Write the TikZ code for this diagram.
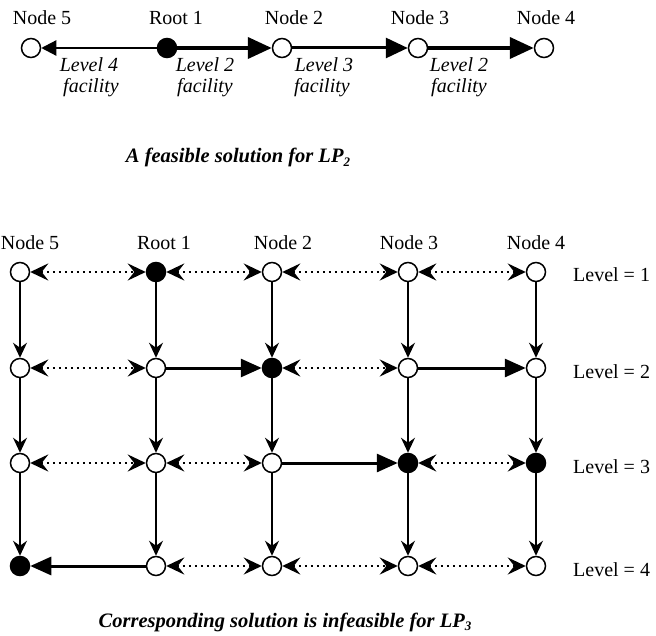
\documentclass[tikz,border=0pt]{standalone}
\usepackage{fontspec}
\setmainfont{Liberation Serif}
\usetikzlibrary{arrows.meta}
\begin{document}
\begin{tikzpicture}[x=1pt,y=-1pt,
  vtx/.style={circle,draw,line width=1.5pt,minimum size=19pt,inner sep=0pt,fill=white},
  fvtx/.style={vtx,fill=black},
  lbl/.style={font=\fontsize{20}{24}\selectfont,anchor=base,inner sep=0pt},
  elbl/.style={font=\fontsize{20}{24}\selectfont\itshape,anchor=base,inner sep=0pt},
  captxt/.style={font=\fontsize{20.5}{24}\selectfont\bfseries\itshape,anchor=base,inner sep=0pt},
  vedge/.style={line width=1.4pt,-{Stealth[length=15pt,width=14pt,inset=5pt]}},
  dedge/.style={line width=2.6pt,dash pattern=on 2.6pt off 3.4pt,
     {Stealth[length=18pt,width=17pt,inset=6.5pt]}-{Stealth[length=18pt,width=17pt,inset=6.5pt]}},
  sedge/.style={line width=3pt,-{Triangle[length=21pt,width=18pt]}},
]
\useasboundingbox (0,0) rectangle (656,636);

% ---------- top: feasible solution ----------
\node[lbl] (tl5) at (42,25) {Node 5};
\node[lbl] (tl1) at (176,25) {Root 1};
\node[lbl] (tl2) at (294,25) {Node 2};
\node[lbl] (tl3) at (420,25) {Node 3};
\node[lbl] (tl4) at (546,25) {Node 4};

\node[vtx]  (t5) at (31,48) {};
\node[fvtx] (t1) at (167,48) {};
\node[vtx]  (t2) at (282,48) {};
\node[vtx]  (t3) at (418,48) {};
\node[vtx]  (t4) at (544,48) {};

\draw[line width=2.2pt,-{Triangle[length=15pt,width=15pt]}] (t1) -- (t5);
\draw[line width=4pt,-{Triangle[length=24pt,width=21pt]}] (t1) -- (t2);
\draw[line width=3pt,-{Triangle[length=22pt,width=20pt]}] (t2) -- (t3);
\draw[line width=4pt,-{Triangle[length=24pt,width=21pt]}] (t3) -- (t4);

\node[elbl] (ea1) at (89,72) {Level 4};
\node[elbl] (ea2) at (91,93) {facility};
\node[elbl] (eb1) at (205,72) {Level 2};
\node[elbl] (eb2) at (205,93) {facility};
\node[elbl] (ec1) at (324,72) {Level 3};
\node[elbl] (ec2) at (322,93) {facility};
\node[elbl] (ed1) at (459,72) {Level 2};
\node[elbl] (ed2) at (459,93) {facility};

\node[captxt] (cap1) at (238,163) {A feasible solution for LP\raisebox{-0.35ex}{\fontsize{13}{13}\selectfont 2}};

% ---------- bottom: grid ----------
\node[lbl] (gl5) at (30,250) {Node 5};
\node[lbl] (gl1) at (164,250) {Root 1};
\node[lbl] (gl2) at (283,250) {Node 2};
\node[lbl] (gl3) at (409,250) {Node 3};
\node[lbl] (gl4) at (536,250) {Node 4};

% row 1
\node[vtx]  (g15) at (20,272) {};
\node[fvtx] (g11) at (156,272) {};
\node[vtx]  (g12) at (272,272) {};
\node[vtx]  (g13) at (408,272) {};
\node[vtx]  (g14) at (536,272) {};
% row 2
\node[vtx]  (g25) at (20,368) {};
\node[vtx]  (g21) at (156,368) {};
\node[fvtx] (g22) at (272,368) {};
\node[vtx]  (g23) at (408,368) {};
\node[vtx]  (g24) at (536,368) {};
% row 3
\node[vtx]  (g35) at (20,463) {};
\node[vtx]  (g31) at (156,463) {};
\node[vtx]  (g32) at (272,463) {};
\node[fvtx] (g33) at (408,463) {};
\node[fvtx] (g34) at (536,463) {};
% row 4
\node[fvtx] (g45) at (20,566) {};
\node[vtx]  (g41) at (156,566) {};
\node[vtx]  (g42) at (272,566) {};
\node[vtx]  (g43) at (408,566) {};
\node[vtx]  (g44) at (536,566) {};

\node[lbl,anchor=base west] (lv1) at (573,282) {Level = 1};
\node[lbl,anchor=base west] (lv2) at (573,378) {Level = 2};
\node[lbl,anchor=base west] (lv3) at (573,473) {Level = 3};
\node[lbl,anchor=base west] (lv4) at (573,576) {Level = 4};

% vertical arrows
\foreach \c in {5,1,2,3,4}{
  \draw[vedge] (g1\c) -- (g2\c);
  \draw[vedge] (g2\c) -- (g3\c);
  \draw[vedge] (g3\c) -- (g4\c);
}

% row 1
\draw[dedge] (g15) -- (g11);
\draw[dedge] (g11) -- (g12);
\draw[dedge] (g12) -- (g13);
\draw[dedge] (g13) -- (g14);
% row 2
\draw[dedge] (g25) -- (g21);
\draw[sedge] (g21) -- (g22);
\draw[dedge] (g22) -- (g23);
\draw[sedge] (g23) -- (g24);
% row 3
\draw[dedge] (g35) -- (g31);
\draw[dedge] (g31) -- (g32);
\draw[sedge] (g32) -- (g33);
\draw[dedge] (g33) -- (g34);
% row 4
\draw[sedge] (g41) -- (g45);
\draw[dedge] (g41) -- (g42);
\draw[dedge] (g42) -- (g43);
\draw[dedge] (g43) -- (g44);

\node[captxt] (cap2) at (285,627) {Corresponding solution is infeasible for LP\raisebox{-0.35ex}{\fontsize{13}{13}\selectfont 3}};
\end{tikzpicture}
\end{document}
